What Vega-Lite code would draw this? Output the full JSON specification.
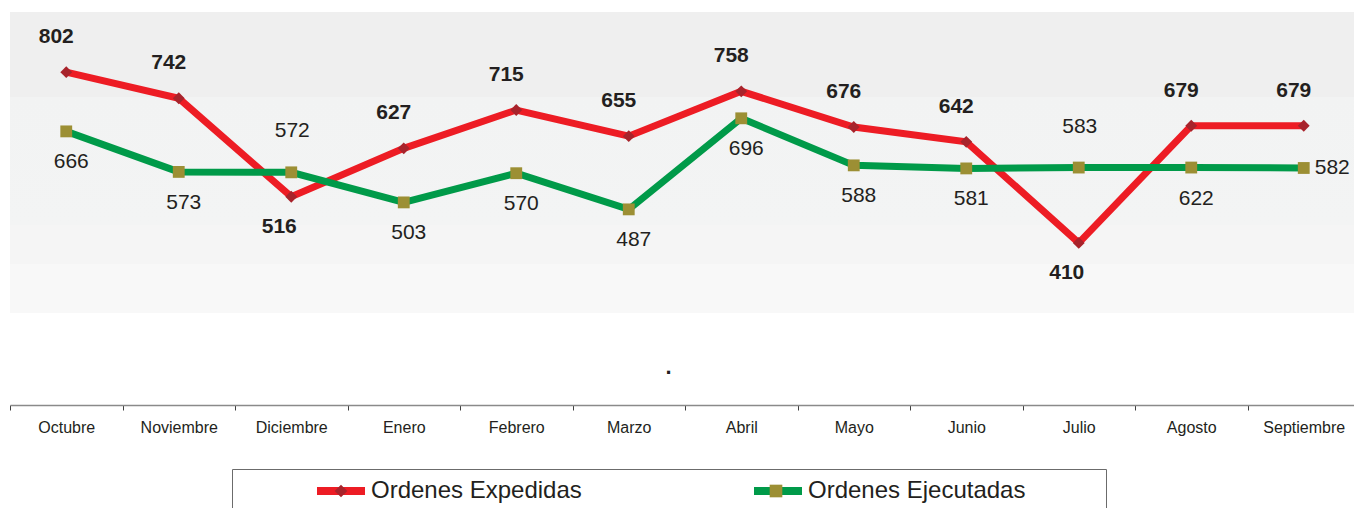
{
  "$schema": "https://vega.github.io/schema/vega-lite/v6.json",
  "autosize": "none",
  "width": 1344,
  "height": 393,
  "padding": {"left": 10, "top": 12, "right": 0, "bottom": 103},
  "config": {"view": {"stroke": null}, "font": "Liberation Sans"},
  "data": {"values": [
    {"mes": "Octubre", "serie": "Ordenes Expedidas", "valor": 802, "etiqueta": "802", "pos": "arriba"},
    {"mes": "Noviembre", "serie": "Ordenes Expedidas", "valor": 742, "etiqueta": "742", "pos": "arriba"},
    {"mes": "Diciembre", "serie": "Ordenes Expedidas", "valor": 516, "etiqueta": "516", "pos": "abajo"},
    {"mes": "Enero", "serie": "Ordenes Expedidas", "valor": 627, "etiqueta": "627", "pos": "arriba"},
    {"mes": "Febrero", "serie": "Ordenes Expedidas", "valor": 715, "etiqueta": "715", "pos": "arriba"},
    {"mes": "Marzo", "serie": "Ordenes Expedidas", "valor": 655, "etiqueta": "655", "pos": "arriba"},
    {"mes": "Abril", "serie": "Ordenes Expedidas", "valor": 758, "etiqueta": "758", "pos": "arriba"},
    {"mes": "Mayo", "serie": "Ordenes Expedidas", "valor": 676, "etiqueta": "676", "pos": "arriba"},
    {"mes": "Junio", "serie": "Ordenes Expedidas", "valor": 642, "etiqueta": "642", "pos": "arriba"},
    {"mes": "Julio", "serie": "Ordenes Expedidas", "valor": 410, "etiqueta": "410", "pos": "abajo"},
    {"mes": "Agosto", "serie": "Ordenes Expedidas", "valor": 679, "etiqueta": "679", "pos": "arriba"},
    {"mes": "Septiembre", "serie": "Ordenes Expedidas", "valor": 679, "etiqueta": "679", "pos": "arriba"},
    {"mes": "Octubre", "serie": "Ordenes Ejecutadas", "valor": 666, "etiqueta": "666", "pos": "abajo"},
    {"mes": "Noviembre", "serie": "Ordenes Ejecutadas", "valor": 573, "etiqueta": "573", "pos": "abajo"},
    {"mes": "Diciembre", "serie": "Ordenes Ejecutadas", "valor": 572, "etiqueta": "572", "pos": "arriba"},
    {"mes": "Enero", "serie": "Ordenes Ejecutadas", "valor": 503, "etiqueta": "503", "pos": "abajo"},
    {"mes": "Febrero", "serie": "Ordenes Ejecutadas", "valor": 570, "etiqueta": "570", "pos": "abajo"},
    {"mes": "Marzo", "serie": "Ordenes Ejecutadas", "valor": 487, "etiqueta": "487", "pos": "abajo"},
    {"mes": "Abril", "serie": "Ordenes Ejecutadas", "valor": 696, "etiqueta": "696", "pos": "abajo"},
    {"mes": "Mayo", "serie": "Ordenes Ejecutadas", "valor": 588, "etiqueta": "588", "pos": "abajo"},
    {"mes": "Junio", "serie": "Ordenes Ejecutadas", "valor": 581, "etiqueta": "581", "pos": "abajo"},
    {"mes": "Julio", "serie": "Ordenes Ejecutadas", "valor": 583, "etiqueta": "583", "pos": "arriba"},
    {"mes": "Agosto", "serie": "Ordenes Ejecutadas", "valor": 583, "etiqueta": "622", "pos": "abajo"},
    {"mes": "Septiembre", "serie": "Ordenes Ejecutadas", "valor": 582, "etiqueta": "582", "pos": "derecha"}
  ]},
  "layer": [
    {
      "data": {"values": [{"zona": "fondo"}]},
      "mark": {"type": "rect", "fill": {"gradient": "linear", "x1": 0, "y1": 0, "x2": 0, "y2": 1, "stops": [
        {"offset": 0, "color": "#efefef"},
        {"offset": 0.282, "color": "#efefef"},
        {"offset": 0.283, "color": "#f2f3f3"},
        {"offset": 0.708, "color": "#f3f4f4"},
        {"offset": 0.709, "color": "#f5f5f5"},
        {"offset": 0.837, "color": "#f5f5f5"},
        {"offset": 0.838, "color": "#f8f8f8"},
        {"offset": 1, "color": "#f8f8f8"}
      ]}},
      "encoding": {
        "y": {"datum": 940, "type": "quantitative", "scale": {"domain": [38, 940]}, "axis": null},
        "y2": {"datum": 249}
      }
    },
    {
      "mark": {"type": "line", "strokeWidth": 7, "strokeJoin": "miter"},
      "encoding": {
        "x": {"field": "mes", "type": "nominal",
          "sort": ["Octubre", "Noviembre", "Diciembre", "Enero", "Febrero", "Marzo", "Abril", "Mayo", "Junio", "Julio", "Agosto", "Septiembre"],
          "scale": {"range": [0, 1350], "paddingInner": 0, "paddingOuter": 0},
          "axis": {"labelAngle": 0, "domainColor": "#8a8a8a", "domainWidth": 1.5, "tickColor": "#404040", "tickWidth": 1, "tickSize": 5, "tickBand": "extent",
            "labelFont": "Liberation Sans", "labelFontSize": 16, "labelColor": "#231f20", "labelPadding": 9,
            "title": ".", "titleFont": "Liberation Sans", "titleFontSize": 22, "titleFontWeight": "bold", "titleColor": "#231f20",
            "titleX": 658, "titleY": -32, "titleAlign": "center", "titleBaseline": "alphabetic"}},
        "y": {"field": "valor", "type": "quantitative", "scale": {"domain": [38, 940]}, "axis": null},
        "stroke": {"field": "serie", "type": "nominal",
          "sort": ["Ordenes Expedidas", "Ordenes Ejecutadas"],
          "scale": {"range": ["#ed1c24", "#009a49"]},
          "legend": {"orient": "none", "legendX": 222, "legendY": 457, "direction": "horizontal", "title": null,
            "symbolType": "M-4,0H4", "symbolSize": 144, "symbolStrokeWidth": 8, "symbolOffset": 87, "labelOffset": 18,
            "columnPadding": 97, "padding": 10, "labelFont": "Liberation Sans", "labelFontSize": 24, "labelColor": "#231f20", "labelLimit": 500}}
      }
    },
    {
      "mark": {"type": "point", "filled": true, "opacity": 1, "size": 140, "strokeWidth": 0},
      "encoding": {
        "x": {"field": "mes", "type": "nominal",
          "sort": ["Octubre", "Noviembre", "Diciembre", "Enero", "Febrero", "Marzo", "Abril", "Mayo", "Junio", "Julio", "Agosto", "Septiembre"]},
        "y": {"field": "valor", "type": "quantitative", "scale": {"domain": [38, 940]}, "axis": null},
        "fill": {"field": "serie", "type": "nominal",
          "scale": {"domain": ["Ordenes Expedidas", "Ordenes Ejecutadas"], "range": ["#a8232b", "#9c8f34"]},
          "legend": {"orient": "none", "legendX": 222, "legendY": 457, "direction": "horizontal", "title": null,
            "symbolSize": 160, "symbolStrokeWidth": 0, "symbolOffset": 87, "labelOffset": 235,
            "columnPadding": 82, "padding": 10, "labelFont": "Liberation Sans", "labelFontSize": 24, "labelColor": "transparent", "labelLimit": 600,
            "strokeColor": "#6b6b6b",
            "labelExpr": "indexof(datum.label, 'Ejecutadas') >= 0 ? 'nnnnni' : '.'"}},
        "shape": {"field": "serie", "type": "nominal",
          "scale": {"domain": ["Ordenes Expedidas", "Ordenes Ejecutadas"], "range": ["diamond", "square"]}}
      }
    },
    {
      "transform": [{"filter": "datum.serie == 'Ordenes Expedidas' && datum.pos == 'arriba'"}],
      "mark": {"type": "text", "dy": -35, "dx": -10, "fontSize": 21, "fontWeight": "bold", "font": "Liberation Sans", "color": "#231f20"},
      "encoding": {
        "x": {"field": "mes", "type": "nominal", "sort": ["Octubre", "Noviembre", "Diciembre", "Enero", "Febrero", "Marzo", "Abril", "Mayo", "Junio", "Julio", "Agosto", "Septiembre"]},
        "y": {"field": "valor", "type": "quantitative", "scale": {"domain": [38, 940]}, "axis": null},
        "text": {"field": "etiqueta", "type": "nominal"}
      }
    },
    {
      "transform": [{"filter": "datum.serie == 'Ordenes Expedidas' && datum.pos == 'abajo'"}],
      "mark": {"type": "text", "dy": 30, "dx": -12, "fontSize": 21, "fontWeight": "bold", "font": "Liberation Sans", "color": "#231f20"},
      "encoding": {
        "x": {"field": "mes", "type": "nominal", "sort": ["Octubre", "Noviembre", "Diciembre", "Enero", "Febrero", "Marzo", "Abril", "Mayo", "Junio", "Julio", "Agosto", "Septiembre"]},
        "y": {"field": "valor", "type": "quantitative", "scale": {"domain": [38, 940]}, "axis": null},
        "text": {"field": "etiqueta", "type": "nominal"}
      }
    },
    {
      "transform": [{"filter": "datum.serie == 'Ordenes Ejecutadas' && datum.pos == 'arriba'"}],
      "mark": {"type": "text", "dy": -41, "dx": 1, "fontSize": 21, "font": "Liberation Sans", "color": "#231f20"},
      "encoding": {
        "x": {"field": "mes", "type": "nominal", "sort": ["Octubre", "Noviembre", "Diciembre", "Enero", "Febrero", "Marzo", "Abril", "Mayo", "Junio", "Julio", "Agosto", "Septiembre"]},
        "y": {"field": "valor", "type": "quantitative", "scale": {"domain": [38, 940]}, "axis": null},
        "text": {"field": "etiqueta", "type": "nominal"}
      }
    },
    {
      "transform": [{"filter": "datum.serie == 'Ordenes Ejecutadas' && datum.pos == 'abajo'"}],
      "mark": {"type": "text", "dy": 31, "dx": 5, "fontSize": 21, "font": "Liberation Sans", "color": "#231f20"},
      "encoding": {
        "x": {"field": "mes", "type": "nominal", "sort": ["Octubre", "Noviembre", "Diciembre", "Enero", "Febrero", "Marzo", "Abril", "Mayo", "Junio", "Julio", "Agosto", "Septiembre"]},
        "y": {"field": "valor", "type": "quantitative", "scale": {"domain": [38, 940]}, "axis": null},
        "text": {"field": "etiqueta", "type": "nominal"}
      }
    },
    {
      "transform": [{"filter": "datum.serie == 'Ordenes Ejecutadas' && datum.pos == 'derecha'"}],
      "mark": {"type": "text", "dy": 0, "dx": 11, "align": "left", "fontSize": 21, "font": "Liberation Sans", "color": "#231f20"},
      "encoding": {
        "x": {"field": "mes", "type": "nominal", "sort": ["Octubre", "Noviembre", "Diciembre", "Enero", "Febrero", "Marzo", "Abril", "Mayo", "Junio", "Julio", "Agosto", "Septiembre"]},
        "y": {"field": "valor", "type": "quantitative", "scale": {"domain": [38, 940]}, "axis": null},
        "text": {"field": "etiqueta", "type": "nominal"}
      }
    }
  ]
}
